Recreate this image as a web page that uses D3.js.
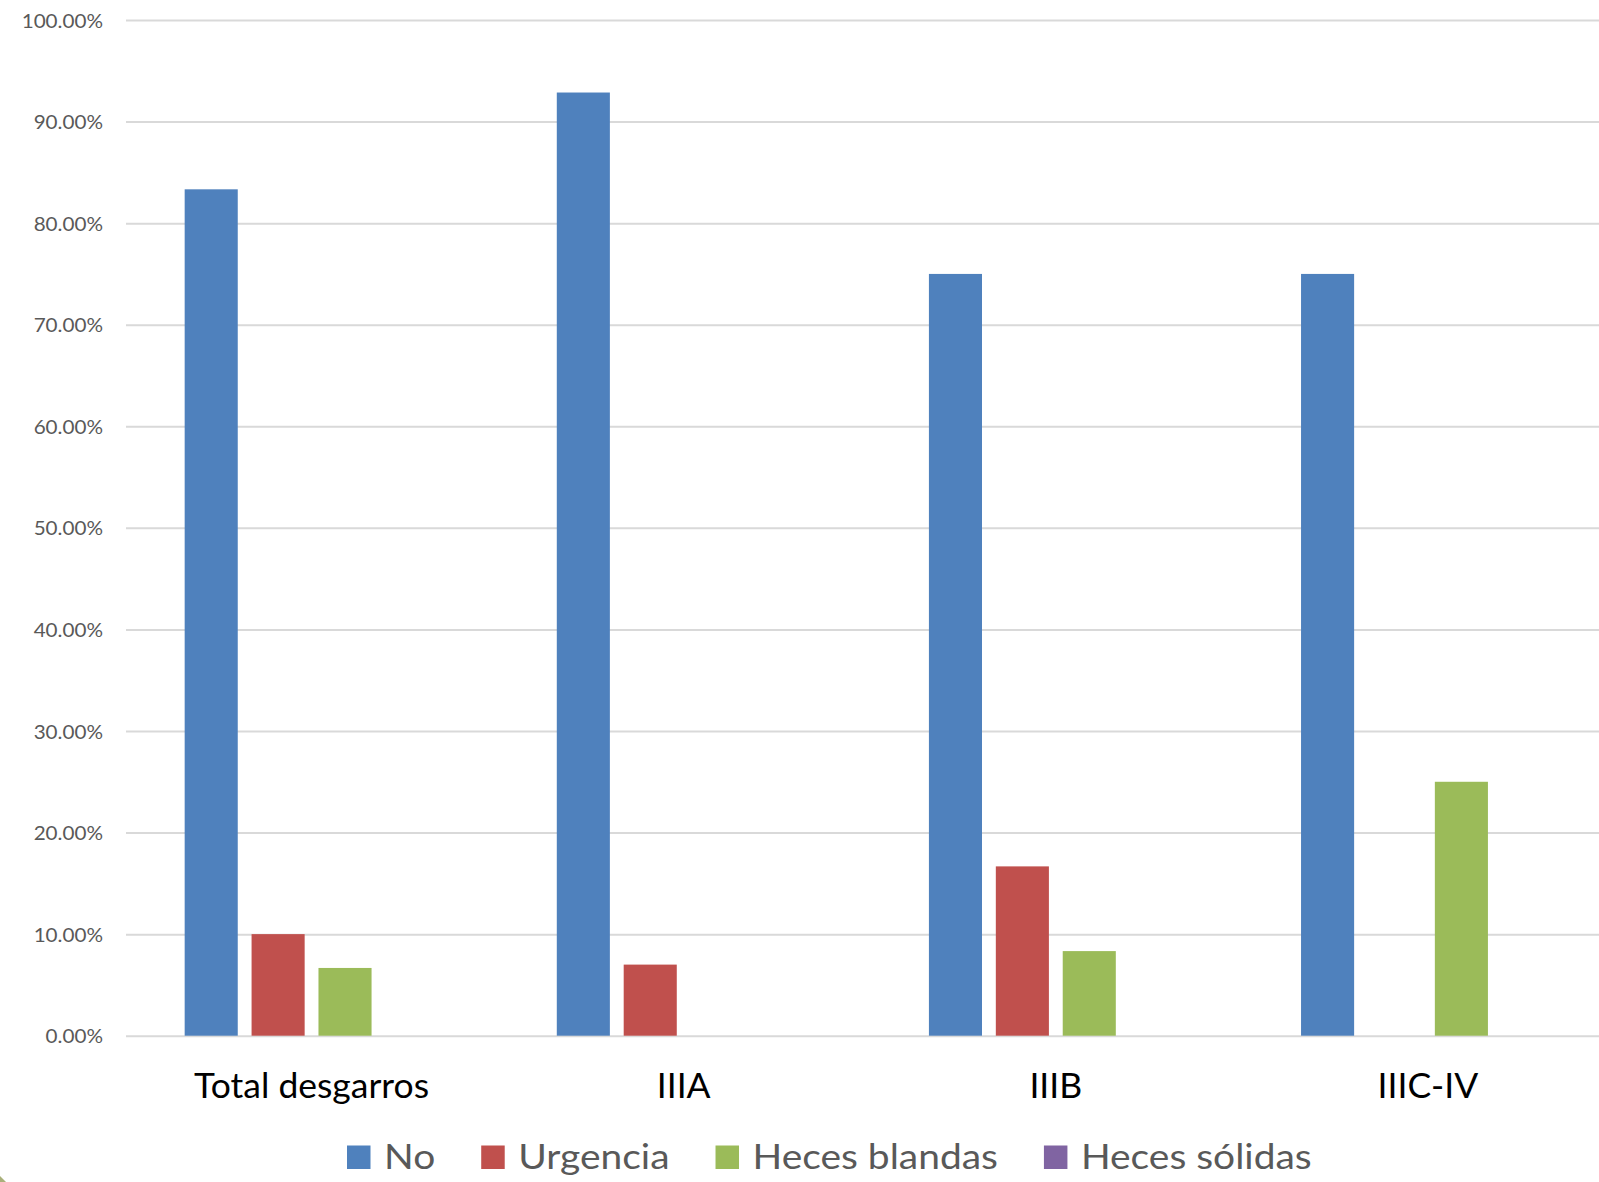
<!DOCTYPE html>
<html>
<head>
<meta charset="utf-8">
<script src="https://cdn.jsdelivr.net/npm/d3@7"></script>
<style>
  html, body { margin: 0; padding: 0; background: #fff; }
  svg { display: block; }
  text { font-family: Lato, "Open Sans", sans-serif; }
</style>
</head>
<body>
<svg id="chart" width="1599" height="1182"></svg>
<script>
// ---- data ----
const categories = ["Total desgarros", "IIIA", "IIIB", "IIIC-IV"];
const seriesNames = ["No", "Urgencia", "Heces blandas", "Heces sólidas"];
const seriesNo = [83.33, 92.86, 75.0, 75.0];
const seriesUrgencia = [10.0, 7.0, 16.67, 0];
const seriesBlandas = [6.67, 0, 8.33, 25.0];
const seriesSolidas = [0, 0, 0, 0];
const yTicks = [0, 10, 20, 30, 40, 50, 60, 70, 80, 90, 100];
const colors = ["#4f81bd", "#c0504d", "#9bbb59", "#8064a2"];

const seriesValues = [seriesNo, seriesUrgencia, seriesBlandas, seriesSolidas];

const svg = d3.select("#chart");

const plotTop = 20, plotBottom = 1035.7;
const plotLeft = 126, plotRightBand = 1614;

const y = d3.scaleLinear().domain([0, 100]).range([plotBottom, plotTop]);

const x0 = d3.scaleBand().domain(categories)
  .range([125.5, plotRightBand])
  .paddingInner(0.318).paddingOuter(0.159);

const x1 = d3.scaleBand().domain(seriesNames)
  .range([0, x0.bandwidth()])
  .paddingInner(0.2066).paddingOuter(0);

// gridlines
const grid = svg.append("g")
  .attr("transform", `translate(${plotLeft},0)`)
  .call(d3.axisLeft(y).tickValues(yTicks).tickSize(-(1599 - plotLeft)).tickFormat(""));
grid.select(".domain").remove();
grid.selectAll(".tick line").attr("stroke", "#d9d9d9").attr("stroke-width", 2);

// helper for condensed text
function condensed(fs, targetText, targetWidth) {
  const t = svg.append("text").attr("font-size", fs).text(targetText);
  const w = t.node().getComputedTextLength();
  t.remove();
  return targetWidth / w;
}

// y tick labels
const tickFs = 19.5;
const tickSx = condensed(tickFs, "100.00%", 81.4);
const yAxis = svg.append("g")
  .attr("transform", `translate(103,0)`)
  .call(d3.axisLeft(y).tickValues(yTicks).tickSize(0).tickPadding(0)
    .tickFormat(d => d3.format(".2f")(d) + "%"));
yAxis.select(".domain").remove();
yAxis.selectAll(".tick text")
  .attr("font-family", "Lato, sans-serif")
  .attr("font-size", tickFs)
  .attr("fill", "#595959")
  .attr("x", 0)
  .attr("dy", "0.36em")
  .attr("transform", `scale(${tickSx},1)`);

// bars
const groups = svg.append("g").selectAll("g")
  .data(categories)
  .join("g")
  .attr("transform", d => `translate(${x0(d)},0)`);

groups.selectAll("rect")
  .data((c, ci) => seriesNames.map((s, si) => ({s, si, v: seriesValues[si][ci]})))
  .join("rect")
  .attr("x", d => x1(d.s))
  .attr("width", x1.bandwidth())
  .attr("y", d => y(d.v))
  .attr("height", d => y(0) - y(d.v))
  .attr("fill", d => colors[d.si]);

// category labels
const catFs = 35;
const catSx = condensed(catFs, "Total desgarros", 235);
const xAxis = svg.append("g")
  .attr("transform", `translate(0,1098.3)`);
xAxis.selectAll("text")
  .data(categories)
  .join("text")
  .attr("transform", d => `translate(${x0(d) + x0.bandwidth() / 2},0) scale(${catSx},1)`)
  .attr("text-anchor", "middle")
  .attr("font-size", catFs)
  .attr("fill", "#000")
  .text(d => d);

// legend
const legFs = 35;
const legSx = condensed(legFs, "Heces blandas", 245.5);
const legend = svg.append("g");
let lx = 347;
seriesNames.forEach((name, i) => {
  legend.append("rect")
    .attr("x", lx).attr("y", 1145.5)
    .attr("width", 23.5).attr("height", 23.5)
    .attr("fill", colors[i]);
  const tx = lx + 37;
  const t = legend.append("text")
    .attr("transform", `translate(${tx},1169) scale(${legSx},1)`)
    .attr("font-size", legFs)
    .attr("fill", "#595959")
    .text(name);
  const w = t.node().getComputedTextLength() * legSx;
  lx = tx + w + 46;
});

// small decorative corner
svg.append("path")
  .attr("d", "M0,1176 L6,1182 L0,1182 Z")
  .attr("fill", "#a9b07a");
</script>
</body>
</html>
